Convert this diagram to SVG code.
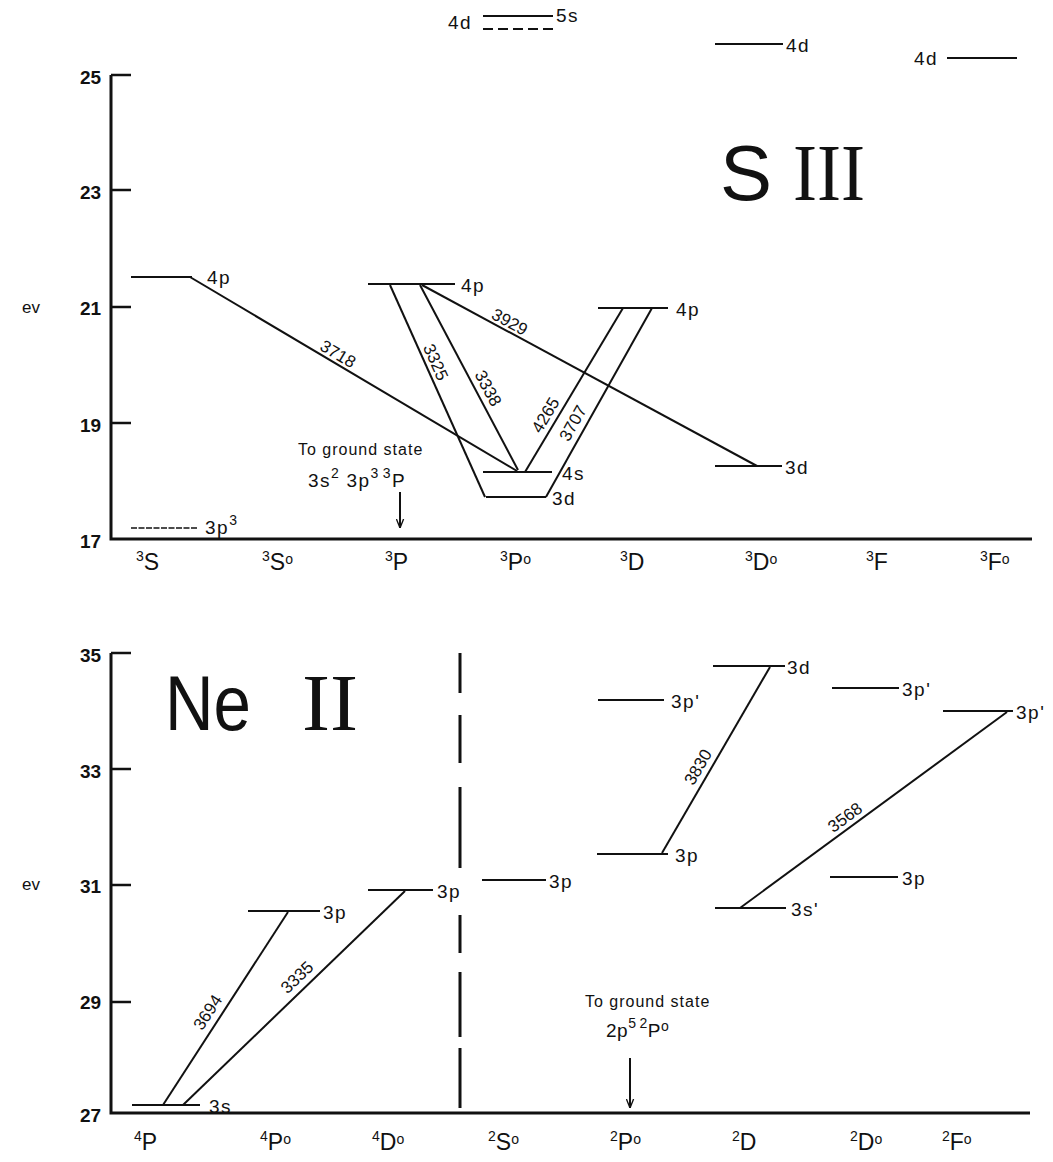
<svg xmlns="http://www.w3.org/2000/svg" width="1053" height="1162" viewBox="0 0 1053 1162">
<style>
text{font-family:"Liberation Sans","DejaVu Sans",sans-serif;fill:#111}
.lv{stroke:#111;stroke-width:2.2;fill:none}
.tr{stroke:#111;stroke-width:2;fill:none}
.ax{stroke:#111;stroke-width:3;fill:none}
.tk{stroke:#111;stroke-width:2.5}
.lab{font-size:19px;letter-spacing:1.5px}
.wl{font-size:17px;text-anchor:middle}
.num{font-size:19px;font-weight:bold}
.term{font-size:23px}
.sup{font-size:14px}
.deg{font-size:14px}
.gs{font-size:16px;letter-spacing:1px}
.big{font-size:78px}
.rom{font-family:"Liberation Serif",serif;font-size:80px}
</style>
<defs>
<marker id="ah" viewBox="0 0 10 10" refX="10" refY="5" markerWidth="9" markerHeight="9" orient="auto" markerUnits="userSpaceOnUse">
<path d="M0,1 L10,5 L0,9" fill="none" stroke="#111" stroke-width="1.5"/>
</marker>
</defs>

<!-- ===== S III panel ===== -->
<g id="axes-top">
<path class="ax" d="M111,75 V539 H1032"/>
<path class="tk" d="M111,75 H131 M111,190 H131 M111,307 H131 M111,423 H131"/>
<text class="num" x="80" y="84">25</text>
<text class="num" x="80" y="199">23</text>
<text class="num" x="80" y="315">21</text>
<text class="num" x="80" y="432">19</text>
<text class="num" x="80" y="548">17</text>
<text class="num" x="22" y="313" style="font-weight:normal;font-size:17px">ev</text>
<text class="term" x="136" y="570"><tspan class="sup" dy="-9">3</tspan><tspan dy="9">S</tspan></text>
<text class="term" x="262" y="570"><tspan class="sup" dy="-9">3</tspan><tspan dy="9">S</tspan><tspan class="deg" dy="-6">o</tspan></text>
<text class="term" x="385" y="570"><tspan class="sup" dy="-9">3</tspan><tspan dy="9">P</tspan></text>
<text class="term" x="500" y="570"><tspan class="sup" dy="-9">3</tspan><tspan dy="9">P</tspan><tspan class="deg" dy="-6">o</tspan></text>
<text class="term" x="620" y="570"><tspan class="sup" dy="-9">3</tspan><tspan dy="9">D</tspan></text>
<text class="term" x="745" y="570"><tspan class="sup" dy="-9">3</tspan><tspan dy="9">D</tspan><tspan class="deg" dy="-6">o</tspan></text>
<text class="term" x="866" y="570"><tspan class="sup" dy="-9">3</tspan><tspan dy="9">F</tspan></text>
<text class="term" x="980" y="570"><tspan class="sup" dy="-9">3</tspan><tspan dy="9">F</tspan><tspan class="deg" dy="-6">o</tspan></text>
</g>

<g id="title-s3">
<text class="big" x="720" y="200">S</text>
<text class="rom" x="793" y="200" textLength="72" lengthAdjust="spacingAndGlyphs">III</text>
</g>

<g id="lvl-top-4d5s">
<line class="lv" x1="483" y1="16" x2="553" y2="16"/>
<line class="lv" x1="483" y1="29" x2="553" y2="29" stroke-dasharray="10 5"/>
<text class="lab" x="448" y="29">4d</text>
<text class="lab" x="556" y="22">5s</text>
</g>
<g id="lvl-3Do-4d">
<line class="lv" x1="715" y1="44" x2="783" y2="44"/>
<text class="lab" x="786" y="52">4d</text>
</g>
<g id="lvl-3Fo-4d">
<text class="lab" x="914" y="65">4d</text>
<line class="lv" x1="947" y1="58" x2="1017" y2="58"/>
</g>
<g id="lvl-3S-4p">
<line class="lv" x1="131" y1="277" x2="192" y2="277"/>
<text class="lab" x="207" y="284">4p</text>
</g>
<g id="lvl-3S-3p3">
<line class="lv" x1="131" y1="528" x2="198" y2="528" style="stroke-width:1.5" stroke-dasharray="6 1.5"/>
<text class="lab" x="205" y="534">3p<tspan class="sup" dy="-9">3</tspan></text>
</g>
<g id="lvl-3Po-4p">
<line class="lv" x1="368" y1="284" x2="455" y2="284"/>
<text class="lab" x="461" y="292">4p</text>
</g>
<g id="lvl-3Po-4s">
<line class="lv" x1="483" y1="472" x2="552" y2="472"/>
<text class="lab" x="562" y="480">4s</text>
</g>
<g id="lvl-3Po-3d">
<line class="lv" x1="486" y1="497" x2="546" y2="497"/>
<text class="lab" x="552" y="505">3d</text>
</g>
<g id="lvl-3D-4p">
<line class="lv" x1="598" y1="308" x2="668" y2="308"/>
<text class="lab" x="676" y="316">4p</text>
</g>
<g id="lvl-3Do-3d">
<line class="lv" x1="715" y1="466" x2="782" y2="466"/>
<text class="lab" x="785" y="474">3d</text>
</g>
<g id="ground-s3">
<text class="gs" x="298" y="455">To ground state</text>
<text class="lab" x="308" y="487">3s<tspan class="sup" dy="-9">2</tspan><tspan dy="9" dx="6">3p</tspan><tspan class="sup" dy="-9">3</tspan><tspan class="sup" dx="3">3</tspan><tspan dy="9">P</tspan></text>
<line class="tr" x1="400" y1="492" x2="400" y2="528" marker-end="url(#ah)"/>
</g>

<!-- ===== Ne II panel ===== -->
<g id="axes-bottom">
<path class="ax" d="M111,653 V1113 H1030"/>
<path class="tk" d="M111,653 H131 M111,769 H131 M111,885 H131 M111,1002 H131"/>
<text class="num" x="80" y="662">35</text>
<text class="num" x="80" y="778">33</text>
<text class="num" x="80" y="893">31</text>
<text class="num" x="80" y="1009">29</text>
<text class="num" x="80" y="1122">27</text>
<text class="num" x="22" y="890" style="font-weight:normal;font-size:17px">ev</text>
<path d="M460,653 V693 M460,715 V763 M460,787 V868 M460,915 V953 M460,972 V1037 M460,1048 V1108" stroke="#111" stroke-width="3"/>
<text class="term" x="134" y="1150"><tspan class="sup" dy="-9">4</tspan><tspan dy="9">P</tspan></text>
<text class="term" x="260" y="1150"><tspan class="sup" dy="-9">4</tspan><tspan dy="9">P</tspan><tspan class="deg" dy="-6">o</tspan></text>
<text class="term" x="372" y="1150"><tspan class="sup" dy="-9">4</tspan><tspan dy="9">D</tspan><tspan class="deg" dy="-6">o</tspan></text>
<text class="term" x="488" y="1150"><tspan class="sup" dy="-9">2</tspan><tspan dy="9">S</tspan><tspan class="deg" dy="-6">o</tspan></text>
<text class="term" x="610" y="1150"><tspan class="sup" dy="-9">2</tspan><tspan dy="9">P</tspan><tspan class="deg" dy="-6">o</tspan></text>
<text class="term" x="732" y="1150"><tspan class="sup" dy="-9">2</tspan><tspan dy="9">D</tspan></text>
<text class="term" x="850" y="1150"><tspan class="sup" dy="-9">2</tspan><tspan dy="9">D</tspan><tspan class="deg" dy="-6">o</tspan></text>
<text class="term" x="942" y="1150"><tspan class="sup" dy="-9">2</tspan><tspan dy="9">F</tspan><tspan class="deg" dy="-6">o</tspan></text>
</g>

<g id="title-ne2">
<text class="big" x="165" y="730" textLength="86" lengthAdjust="spacingAndGlyphs">Ne</text>
<text class="rom" x="302" y="730" textLength="56" lengthAdjust="spacingAndGlyphs">II</text>
</g>

<g id="lvl-4P-3s">
<line class="lv" x1="132" y1="1105" x2="200" y2="1105"/>
<text class="lab" x="209" y="1113">3s</text>
</g>
<g id="lvl-4Po-3p">
<line class="lv" x1="248" y1="911" x2="320" y2="911"/>
<text class="lab" x="323" y="919">3p</text>
</g>
<g id="lvl-4Do-3p">
<line class="lv" x1="368" y1="890" x2="433" y2="890"/>
<text class="lab" x="437" y="898">3p</text>
</g>
<g id="lvl-2So-3p">
<line class="lv" x1="482" y1="880" x2="546" y2="880"/>
<text class="lab" x="549" y="888">3p</text>
</g>
<g id="lvl-2Po-3pp">
<line class="lv" x1="598" y1="700" x2="664" y2="700"/>
<text class="lab" x="671" y="708">3p'</text>
</g>
<g id="lvl-2Po-3p">
<line class="lv" x1="597" y1="854" x2="668" y2="854"/>
<text class="lab" x="675" y="862">3p</text>
</g>
<g id="lvl-2D-3d">
<line class="lv" x1="713" y1="666" x2="785" y2="666"/>
<text class="lab" x="787" y="674">3d</text>
</g>
<g id="lvl-2D-3sp">
<line class="lv" x1="715" y1="908" x2="786" y2="908"/>
<text class="lab" x="791" y="916">3s'</text>
</g>
<g id="lvl-2Do-3pp">
<line class="lv" x1="832" y1="688" x2="899" y2="688"/>
<text class="lab" x="902" y="696">3p'</text>
</g>
<g id="lvl-2Do-3p">
<line class="lv" x1="830" y1="877" x2="898" y2="877"/>
<text class="lab" x="902" y="885">3p</text>
</g>
<g id="lvl-2Fo-3pp">
<line class="lv" x1="943" y1="711" x2="1013" y2="711"/>
<text class="lab" x="1016" y="719">3p'</text>
</g>
<g id="ground-ne2">
<text class="gs" x="585" y="1007">To ground state</text>
<text class="lab" x="606" y="1037" style="letter-spacing:0.5px">2p<tspan class="sup" dy="-9">5</tspan><tspan class="sup" dx="3">2</tspan><tspan dy="9">P</tspan><tspan class="deg" dy="-6">o</tspan></text>
<line class="tr" x1="630" y1="1058" x2="630" y2="1108" marker-end="url(#ah)"/>
</g>

<!-- ===== transitions ===== -->
<g id="connectors">
<line class="tr" x1="190" y1="277" x2="517" y2="471"/>
<line class="tr" x1="390" y1="285" x2="485" y2="497"/>
<line class="tr" x1="420" y1="285" x2="518" y2="470"/>
<line class="tr" x1="422" y1="285" x2="757" y2="466"/>
<line class="tr" x1="525" y1="472" x2="623" y2="308"/>
<line class="tr" x1="546" y1="497" x2="652" y2="308"/>
<line class="tr" x1="662" y1="853" x2="770" y2="667"/>
<line class="tr" x1="740" y1="908" x2="1007" y2="712"/>
<line class="tr" x1="163" y1="1105" x2="288" y2="912"/>
<line class="tr" x1="183" y1="1105" x2="405" y2="891"/>
<text class="wl" transform="translate(335,359) rotate(30.7)">3718</text>
<text class="wl" transform="translate(430.5,364.5) rotate(65.9)">3325</text>
<text class="wl" transform="translate(483,391) rotate(62.1)">3338</text>
<text class="wl" transform="translate(507,327) rotate(28.4)">3929</text>
<text class="wl" transform="translate(550.5,418) rotate(-59.2)">4265</text>
<text class="wl" transform="translate(578,426) rotate(-60.7)">3707</text>
<text class="wl" transform="translate(703,770) rotate(-59.9)">3830</text>
<text class="wl" transform="translate(848.5,822) rotate(-36.3)">3568</text>
<text class="wl" transform="translate(212.5,1015.5) rotate(-57.1)">3694</text>
<text class="wl" transform="translate(301,981.5) rotate(-43.9)">3335</text>
</g>
</svg>
